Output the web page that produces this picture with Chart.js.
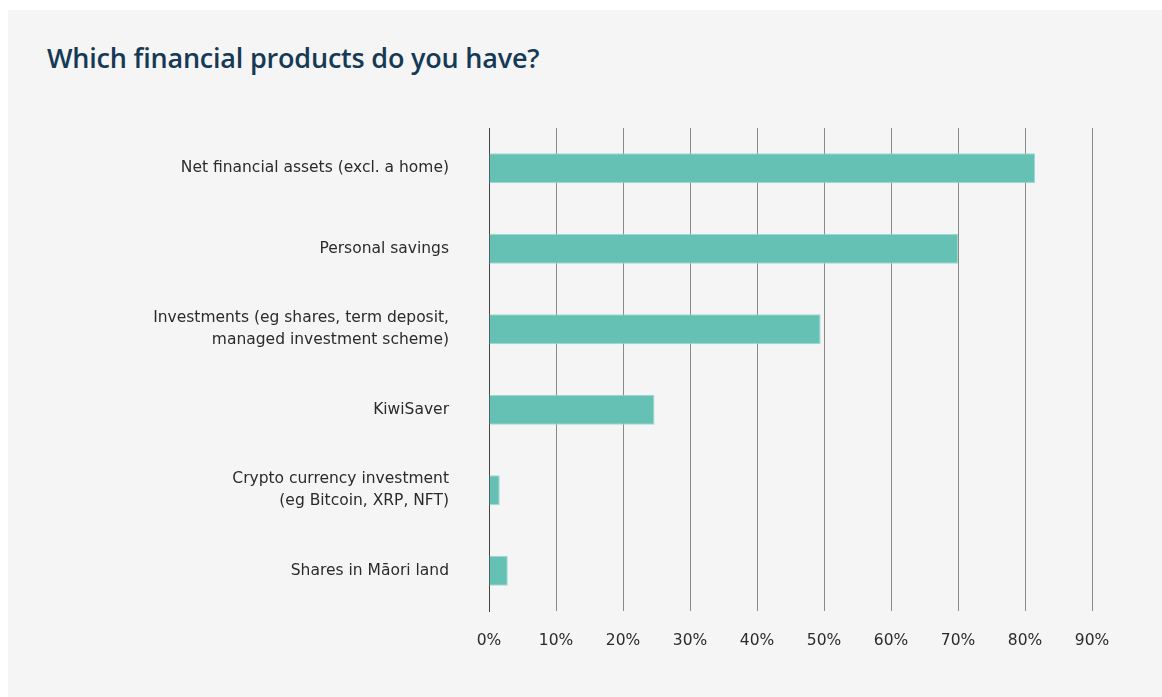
<!DOCTYPE html>
<html>
<head>
<meta charset="utf-8">
<script src="https://cdn.jsdelivr.net/npm/chart.js@4/dist/chart.umd.min.js"></script>
<style>
  html, body { margin: 0; padding: 0; background: #ffffff; }
  body { width: 1162px; height: 697px; position: relative; overflow: hidden; }
  .panel { position: absolute; left: 8px; top: 10px; width: 1154px; height: 687px; background: #f5f5f5; }
  h1 {
    position: absolute; left: 47px; top: 39px; margin: 0;
    font-family: "Open Sans", sans-serif; font-weight: 600; font-size: 27px;
    color: #163a56; letter-spacing: -0.2px;
  }
  #wrap { position: absolute; left: 0; top: 0; width: 1162px; height: 697px; }
</style>
</head>
<body>
<div class="panel"></div>
<h1>Which financial products do you have?</h1>
<div id="wrap"><canvas id="products"></canvas></div>
<script>
// categories and share of respondents (%)
const categories = [
  'Net financial assets (excl. a home)',
  'Personal savings',
  ['Investments (eg shares, term deposit,', 'managed investment scheme)'],
  'KiwiSaver',
  ['Crypto currency investment', '(eg Bitcoin, XRP, NFT)'],
  'Shares in Māori land'
];
const shares = [81.5, 70, 49.5, 24.7, 1.6, 2.8];
const xTicks = [0, 10, 20, 30, 40, 50, 60, 70, 80, 90];

const font = { family: '"DejaVu Sans", sans-serif', size: 15.5 };

new Chart(document.getElementById('products'), {
  type: 'bar',
  data: {
    labels: categories,
    datasets: [{
      data: shares,
      backgroundColor: '#64c1b3',
      borderColor: '#9fd9cf',
      borderWidth: 1,
      barPercentage: 0.37,
      categoryPercentage: 1
    }]
  },
  options: {
    indexAxis: 'y',
    responsive: true,
    maintainAspectRatio: false,
    animation: false,
    layout: { padding: { top: 128, right: 70, left: 0, bottom: 0 } },
    plugins: { legend: { display: false }, tooltip: { enabled: false } },
    scales: {
      x: {
        min: 0, max: 90,
        afterBuildTicks: axis => { axis.ticks = xTicks.map(v => ({ value: v })); },
        afterFit: axis => { axis.height = 86; },
        border: { display: false },
        grid: { color: '#8a8a8a', lineWidth: 1, drawTicks: false },
        ticks: { padding: 21, color: '#2b2b2b', font, callback: v => v + '%' }
      },
      y: {
        afterFit: axis => { axis.width = 489; },
        border: { display: true, color: '#444444', width: 1 },
        grid: { display: false, drawTicks: false },
        ticks: { padding: 40, color: '#2b2b2b', font: { ...font, lineHeight: 1.4 } }
      }
    }
  }
});
</script>
</body>
</html>
